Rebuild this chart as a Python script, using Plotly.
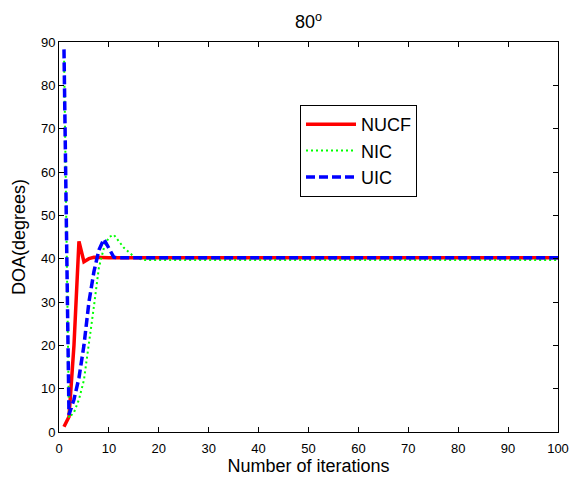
import plotly.graph_objects as go

# Iteration index and DOA estimates (degrees) for the three algorithms
iterations = list(range(1, 101))

nucf = [1.2, 3.5, 20.0, 44.0, 39.3, 40.0, 40.3, 40.2, 40.2, 40.2,
        40.2, 40.2, 40.2, 40.2, 40.2, 40.2, 40.2, 40.2, 40.2, 40.2,
        40.2, 40.2, 40.2, 40.2, 40.2, 40.2, 40.2, 40.2, 40.2, 40.2,
        40.2, 40.2, 40.2, 40.2, 40.2, 40.2, 40.2, 40.2, 40.2, 40.2,
        40.2, 40.2, 40.2, 40.2, 40.2, 40.2, 40.2, 40.2, 40.2, 40.2,
        40.2, 40.2, 40.2, 40.2, 40.2, 40.2, 40.2, 40.2, 40.2, 40.2,
        40.2, 40.2, 40.2, 40.2, 40.2, 40.2, 40.2, 40.2, 40.2, 40.2,
        40.2, 40.2, 40.2, 40.2, 40.2, 40.2, 40.2, 40.2, 40.2, 40.2,
        40.2, 40.2, 40.2, 40.2, 40.2, 40.2, 40.2, 40.2, 40.2, 40.2,
        40.2, 40.2, 40.2, 40.2, 40.2, 40.2, 40.2, 40.2, 40.2, 40.2]

nic = [88.0, 3.3, 4.5, 7.5, 12.0, 20.0, 29.0, 38.0, 42.5, 45.0,
       45.5, 44.0, 42.5, 41.5, 40.5, 40.0, 39.7, 39.7, 39.7, 39.7,
       39.7, 39.7, 39.7, 39.7, 39.7, 39.7, 39.7, 39.7, 39.7, 39.7,
       39.7, 39.7, 39.7, 39.7, 39.7, 39.7, 39.7, 39.7, 39.7, 39.7,
       39.7, 39.7, 39.7, 39.7, 39.7, 39.7, 39.7, 39.7, 39.7, 39.7,
       39.7, 39.7, 39.7, 39.7, 39.7, 39.7, 39.7, 39.7, 39.7, 39.7,
       39.7, 39.7, 39.7, 39.7, 39.7, 39.7, 39.7, 39.7, 39.7, 39.7,
       39.7, 39.7, 39.7, 39.7, 39.7, 39.7, 39.7, 39.7, 39.7, 39.7,
       39.7, 39.7, 39.7, 39.7, 39.7, 39.7, 39.7, 39.7, 39.7, 39.7,
       39.7, 39.7, 39.7, 39.7, 39.7, 39.7, 39.7, 39.7, 39.7, 39.7]

uic = [88.3, 4.0, 7.5, 12.5, 20.0, 30.0, 37.0, 42.0, 44.5, 42.3,
       40.3, 40.2, 40.2, 40.2, 40.2, 40.2, 40.2, 40.2, 40.2, 40.2,
       40.2, 40.2, 40.2, 40.2, 40.2, 40.2, 40.2, 40.2, 40.2, 40.2,
       40.2, 40.2, 40.2, 40.2, 40.2, 40.2, 40.2, 40.2, 40.2, 40.2,
       40.2, 40.2, 40.2, 40.2, 40.2, 40.2, 40.2, 40.2, 40.2, 40.2,
       40.2, 40.2, 40.2, 40.2, 40.2, 40.2, 40.2, 40.2, 40.2, 40.2,
       40.2, 40.2, 40.2, 40.2, 40.2, 40.2, 40.2, 40.2, 40.2, 40.2,
       40.2, 40.2, 40.2, 40.2, 40.2, 40.2, 40.2, 40.2, 40.2, 40.2,
       40.2, 40.2, 40.2, 40.2, 40.2, 40.2, 40.2, 40.2, 40.2, 40.2,
       40.2, 40.2, 40.2, 40.2, 40.2, 40.2, 40.2, 40.2, 40.2, 40.2]

FONT = "Liberation Sans, Arial, sans-serif"

fig = go.Figure()
fig.add_trace(go.Scatter(x=iterations, y=nucf, mode="lines", name="NUCF",
                         line=dict(color="#ff0000", width=3.5)))
fig.add_trace(go.Scatter(x=iterations, y=nic, mode="lines", name="NIC",
                         line=dict(color="#00ff00", width=2, dash="2px,3px")))
fig.add_trace(go.Scatter(x=iterations, y=uic, mode="lines", name="UIC",
                         line=dict(color="#0000ff", width=3.5, dash="9px,4px")))

axis_common = dict(
    showgrid=False, zeroline=False, showline=True, linecolor="black",
    linewidth=1, mirror="allticks", ticks="inside", ticklen=5,
    tickcolor="black", tickfont=dict(family=FONT, size=13, color="black"),
    automargin=False,
)

fig.update_layout(
    width=570, height=477,
    margin=dict(l=59, r=12, t=42, b=45),
    paper_bgcolor="white", plot_bgcolor="white",
    font=dict(family=FONT, color="black"),
    title=dict(text="80<sup>o</sup>", x=(59 + 558) / 2 / 570, xanchor="center",
               y=1 - 22 / 477, yanchor="middle",
               font=dict(family=FONT, size=18, color="black"),
               automargin=False),
    xaxis=dict(range=[0, 100], dtick=10, ticklabelstandoff=4,
               title=dict(text="Number of iterations", standoff=3,
                          font=dict(family=FONT, size=18, color="black")),
               **axis_common),
    yaxis=dict(range=[0, 90], dtick=10,
               title=dict(text="DOA(degrees)", standoff=10,
                          font=dict(family=FONT, size=18, color="black")),
               **axis_common),
    legend=dict(x=(300 - 59) / 499, y=(432 - 105) / 390, xanchor="left",
                yanchor="top", bgcolor="white", bordercolor="black",
                borderwidth=1, font=dict(family=FONT, size=18, color="black"),
                traceorder="normal", itemwidth=50),
    showlegend=True,
)

fig.write_html("out.html")
